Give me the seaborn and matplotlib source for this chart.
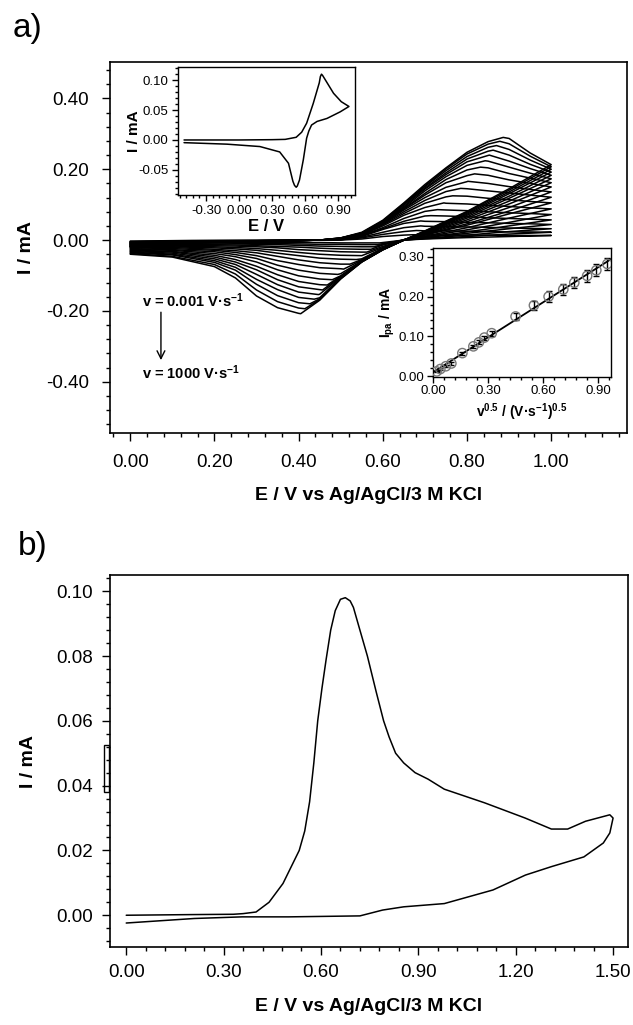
import numpy as np
import pandas as pd
import matplotlib
matplotlib.use('Agg')
import matplotlib.pyplot as plt
import seaborn as sns
from matplotlib.ticker import MultipleLocator, FormatStrFormatter
from matplotlib.patches import Rectangle

# ---------------- panel a: CV family (currents in uA, fastest scan first) ----------------
fwd_E = [0.0, 0.15, 0.3, 0.45, 0.5, 0.55, 0.6, 0.65, 0.7, 0.75, 0.8, 0.85, 0.9, 0.95, 1.0]
fwd_I = [
    [-20, -8, -5, 0, 6, 22, 56, 105, 157, 204, 248, 278, 287, 246, 213],
    [-19, -8, -5, 0, 6, 20, 54, 103, 153, 201, 243, 271, 272, 237, 207],
    [-18, -7, -5, 0, 6, 20, 53, 101, 151, 196, 236, 262, 256, 226, 200],
    [-17, -7, -4, 0, 5, 19, 53, 99, 147, 190, 229, 251, 240, 214, 192],
    [-16, -7, -4, 0, 5, 19, 53, 95, 144, 185, 221, 239, 223, 202, 183],
    [-15, -6, -4, 0, 5, 19, 52, 92, 139, 179, 211, 223, 206, 189, 173],
    [-14, -6, -4, 0, 4, 19, 49, 89, 132, 171, 198, 204, 188, 175, 162],
    [-13, -6, -4, 0, 4, 18, 49, 88, 127, 162, 182, 183, 170, 160, 150],
    [-12, -5, -3, 0, 3, 17, 46, 85, 120, 149, 165, 160, 151, 143, 136],
    [-11, -5, -3, 0, 3, 16, 45, 80, 112, 137, 145, 139, 133, 127, 121],
    [-10, -4, -3, 0, 3, 15, 43, 75, 104, 122, 124, 118, 114, 109, 105],
    [-9, -4, -2, 0, 2, 14, 40, 70, 92, 104, 102, 98, 95, 91, 88],
    [-8, -3, -2, 0, 2, 13, 35, 61, 81, 85, 83, 80, 77, 75, 72],
    [-7, -3, -2, 0, 2, 12, 32, 53, 68, 68, 66, 63, 61, 59, 57],
    [-6, -3, -2, 0, 1, 10, 30, 47, 53, 52, 50, 49, 47, 46, 44],
    [-5, -2, -1, 0, 1, 8, 22, 35, 39, 38, 37, 36, 34, 33, 32],
    [-4, -2, -1, 0, 1, 6, 16, 24, 26, 26, 25, 24, 23, 23, 22],
    [-3, -1, -1, 0, 0, 3, 10, 14, 15, 14, 14, 14, 13, 13, 13],
]
peak_E = [0.886, 0.878, 0.870, 0.862, 0.853, 0.843, 0.832, 0.818, 0.802, 0.785,
          0.766, 0.745, 0.730, 0.714, 0.690, 0.690, 0.680, 0.670]
peak_I = [290, 279, 267, 254, 240, 224, 206, 187, 166, 146, 125, 105, 86, 69, 54, 40, 27, 15]

rev_E = [1.0, 0.9, 0.8, 0.7, 0.65, 0.6, 0.55, 0.5, 0.45, 0.4, 0.35, 0.3, 0.25, 0.2, 0.1, 0.0]
rev_I = [
    [213, 145, 81, 26, 0, -28, -62, -110, -170, -207, -191, -158, -107, -75, -48, -40],
    [207, 141, 79, 25, 0, -27, -62, -109, -168, -192, -174, -141, -96, -69, -46, -38],
    [200, 136, 76, 24, 0, -27, -61, -107, -166, -177, -157, -125, -85, -63, -42, -36],
    [192, 131, 73, 23, 0, -27, -61, -106, -163, -162, -140, -111, -77, -58, -40, -34],
    [183, 124, 70, 22, 0, -27, -61, -105, -153, -147, -126, -97, -69, -53, -37, -32],
    [173, 118, 66, 21, 0, -26, -60, -103, -140, -132, -112, -84, -62, -48, -34, -30],
    [162, 110, 62, 19, 0, -26, -60, -102, -126, -117, -98, -74, -55, -43, -32, -28],
    [150, 102, 57, 18, 0, -26, -60, -101, -110, -101, -84, -62, -47, -38, -29, -26],
    [136, 92, 52, 16, 0, -25, -59, -95, -94, -85, -71, -52, -41, -33, -27, -24],
    [121, 82, 46, 15, 0, -25, -57, -81, -78, -69, -58, -44, -35, -29, -24, -22],
    [105, 74, 42, 14, 1, -25, -55, -68, -64, -56, -46, -36, -30, -26, -21, -20],
    [88, 62, 35, 11, 1, -23, -53, -54, -51, -44, -37, -29, -25, -22, -19, -18],
    [72, 50, 29, 9, 1, -21, -44, -43, -40, -35, -29, -24, -21, -19, -17, -16],
    [57, 40, 23, 7, 0, -18, -34, -33, -30, -27, -22, -19, -17, -16, -15, -14],
    [44, 32, 19, 7, 1, -14, -26, -25, -23, -20, -18, -16, -14, -13, -12, -12],
    [32, 24, 14, 5, 0, -12, -19, -18, -17, -15, -13, -12, -11, -11, -10, -10],
    [22, 17, 10, 4, 0, -10, -13, -12, -12, -11, -10, -9, -9, -8, -8, -8],
    [13, 10, 7, 3, 0, -7, -8, -8, -7, -7, -7, -6, -6, -6, -6, -6],
]
trough_E = [0.405, 0.415, 0.427, 0.437, 0.447, 0.457, 0.468, 0.480, 0.493, 0.507,
            0.522, 0.537, 0.550, 0.562, 0.572, 0.580, 0.587, 0.593]
trough_I = [-208, -194, -180, -167, -154, -141, -127, -112, -97, -82, -68, -55, -44, -34, -26, -19, -13, -8]

# inset: single CV (E / V, I / mA)
cv1_fwd_E = [-0.5, 0.0, 0.3, 0.42, 0.52, 0.57, 0.615, 0.675, 0.73, 0.74, 0.75, 0.76, 0.80, 0.86, 0.93, 1.0]
cv1_fwd_I = [0.0, 0.0, 0.0005, 0.001, 0.0045, 0.013, 0.028, 0.061, 0.0955, 0.106, 0.110, 0.108, 0.096, 0.078, 0.064, 0.056]
cv1_rev_E = [1.0, 0.92, 0.80, 0.71, 0.66, 0.635, 0.615, 0.585, 0.55, 0.53, 0.52, 0.505, 0.49, 0.45, 0.37, 0.19, -0.11, -0.5]
cv1_rev_I = [0.056, 0.047, 0.036, 0.031, 0.025, 0.015, 0.003, -0.033, -0.067, -0.077, -0.079, -0.076, -0.069, -0.039, -0.020, -0.011, -0.007, -0.0045]

# inset: peak current vs sqrt(scan rate)
ipa_x = [0.02, 0.04, 0.07, 0.10, 0.16, 0.22, 0.25, 0.28, 0.32, 0.45, 0.55, 0.63, 0.71, 0.77, 0.84, 0.89, 0.95]
ipa_y = [0.012, 0.018, 0.025, 0.032, 0.058, 0.075, 0.085, 0.097, 0.108, 0.150, 0.178, 0.200, 0.218, 0.235, 0.252, 0.266, 0.282]
ipa_err = [0.002, 0.002, 0.002, 0.003, 0.004, 0.004, 0.005, 0.005, 0.006, 0.010, 0.012, 0.013, 0.014, 0.014, 0.015, 0.015, 0.016]

# ---------------- panel b: single CV ----------------
b_fwd_E = [0.0, 0.1, 0.2, 0.33, 0.36, 0.40, 0.44, 0.483, 0.533, 0.55, 0.565, 0.578, 0.59, 0.603, 0.616,
           0.63, 0.644, 0.66, 0.675, 0.69, 0.70, 0.72, 0.743, 0.77, 0.793, 0.81, 0.83, 0.855, 0.89,
           0.93, 0.98, 1.104, 1.229, 1.31, 1.36, 1.415, 1.46, 1.49, 1.50]
b_fwd_I = [0.0, 0.0001, 0.0002, 0.0003, 0.0005, 0.001, 0.004, 0.0098, 0.020, 0.026, 0.035, 0.047,
           0.060, 0.070, 0.079, 0.088, 0.094, 0.0975, 0.098, 0.097, 0.095, 0.088, 0.080, 0.069, 0.060,
           0.055, 0.050, 0.047, 0.044, 0.042, 0.0389, 0.0347, 0.030, 0.0266, 0.0266, 0.029, 0.0302,
           0.031, 0.030]
b_rev_E = [1.50, 1.49, 1.47, 1.41, 1.31, 1.23, 1.13, 0.98, 0.855, 0.79, 0.72, 0.5, 0.357, 0.21, 0.0]
b_rev_I = [0.030, 0.0254, 0.0223, 0.018, 0.015, 0.0124, 0.0078, 0.0036, 0.0026, 0.0016, -0.0002,
           -0.0005, -0.0005, -0.001, -0.0024]

# ---------------- style ----------------
sns.set_style('ticks')
plt.rcParams['font.family'] = ['Liberation Sans', 'DejaVu Sans']
plt.rcParams['mathtext.fontset'] = 'custom'
plt.rcParams['mathtext.rm'] = 'Liberation Sans'
plt.rcParams['mathtext.bf'] = 'Liberation Sans:bold'
plt.rcParams['mathtext.it'] = 'Liberation Sans:italic'
plt.rcParams['axes.unicode_minus'] = False
for key in ['text.color', 'axes.labelcolor', 'xtick.color', 'ytick.color', 'axes.edgecolor']:
    plt.rcParams[key] = 'black'

W, H = 633, 1025
fig = plt.figure(figsize=(W / 100, H / 100), dpi=100)


def px_axes(left, top, right, bottom):
    return fig.add_axes([left / W, 1 - bottom / H, (right - left) / W, (bottom - top) / H])


def style_axis(ax, lab, pad, maj=6, mnr=3, lw=1.2):
    for s in ax.spines.values():
        s.set_linewidth(lw)
        s.set_color('black')
    ax.tick_params(which='major', direction='out', length=maj, width=1, labelsize=lab, pad=pad,
                   top=False, right=False, colors='black')
    ax.tick_params(which='minor', direction='out', length=mnr, width=1, top=False, right=False,
                   colors='black')


# build long table of the CV family
rows = []
for k in range(len(fwd_I)):
    f = sorted(zip(fwd_E + [peak_E[k]], fwd_I[k] + [peak_I[k]]))
    rv = dict(zip(rev_E, rev_I[k]))
    rv.setdefault(trough_E[k], trough_I[k])
    r = sorted(rv.items(), reverse=True)
    for n, (e, i) in enumerate(f + r):
        rows.append((k, n, e, i / 1000.0))
cv_df = pd.DataFrame(rows, columns=['curve', 'step', 'E', 'I'])

# ---- panel a main ----
ax1 = px_axes(110, 62, 627, 433)
sns.lineplot(data=cv_df, x='E', y='I', units='curve', estimator=None, sort=False,
             color='black', lw=1.1, ax=ax1, legend=False)
ax1.set_xlim(-0.048, 1.18)
ax1.set_ylim(-0.545, 0.503)
ax1.xaxis.set_minor_locator(MultipleLocator(0.04))
ax1.yaxis.set_major_locator(MultipleLocator(0.2))
ax1.yaxis.set_minor_locator(MultipleLocator(0.04))
ax1.set_xticks([0, 0.2, 0.4, 0.6, 0.8, 1.0])
ax1.xaxis.set_major_formatter(FormatStrFormatter('%.2f'))
ax1.yaxis.set_major_formatter(FormatStrFormatter('%.2f'))
style_axis(ax1, 13.5, 9)
ax1.set_xlabel('E / V vs Ag/AgCl/3 M KCl', fontsize=14, fontweight='bold')
ax1.set_ylabel('I / mA', fontsize=14, fontweight='bold')
ax1.xaxis.set_label_coords(0.5, -0.146)
ax1.yaxis.set_label_coords(-0.145, 0.5)

ax1.text(0.029, -0.172, 'v = 0.001 V·s$^{\\mathbf{-1}}$', fontsize=10.5, fontweight='bold',
         ha='left', va='center')
ax1.text(0.029, -0.375, 'v = 1000 V·s$^{\\mathbf{-1}}$', fontsize=10.5, fontweight='bold',
         ha='left', va='center')
ax1.annotate('', xy=(0.073, -0.347), xytext=(0.073, -0.196),
             arrowprops=dict(arrowstyle='->', lw=1, color='black', mutation_scale=14))

# ---- inset: single CV ----
ax2 = px_axes(178, 67, 355, 195)
sns.lineplot(x=cv1_fwd_E + cv1_rev_E, y=cv1_fwd_I + cv1_rev_I, sort=False, estimator=None,
             color='black', lw=1.1, ax=ax2)
ax2.set_xlim(-0.555, 1.055)
ax2.set_ylim(-0.092, 0.122)
ax2.set_xticks([-0.3, 0.0, 0.3, 0.6, 0.9])
ax2.xaxis.set_minor_locator(MultipleLocator(0.06))
ax2.set_yticks([-0.05, 0.0, 0.05, 0.10])
ax2.yaxis.set_minor_locator(MultipleLocator(0.01))
ax2.xaxis.set_major_formatter(FormatStrFormatter('%.2f'))
ax2.yaxis.set_major_formatter(FormatStrFormatter('%.2f'))
style_axis(ax2, 9.5, 3, maj=4, mnr=2, lw=1.0)
ax2.set_xlabel('E / V', fontsize=12, fontweight='bold')
ax2.set_ylabel('I / mA', fontsize=11, fontweight='bold')
ax2.xaxis.set_label_coords(0.5, -0.19)
ax2.yaxis.set_label_coords(-0.21, 0.5)

# ---- inset: Ipa vs v^0.5 ----
ax3 = px_axes(433, 248, 611, 377)
ax3.set_xlim(0, 0.97)
ax3.set_ylim(-0.002, 0.322)
ax3.errorbar(ipa_x, ipa_y, yerr=ipa_err, fmt='none', ecolor='black', elinewidth=1,
             capsize=2, capthick=1)
sns.scatterplot(x=ipa_x, y=ipa_y, ax=ax3, marker='o', s=45, facecolor='none',
                edgecolor='#777777', linewidth=1, zorder=3)
sns.regplot(x=ipa_x, y=ipa_y, ax=ax3, scatter=False, ci=None, truncate=False,
            line_kws=dict(color='black', lw=1.3))
ax3.set_xlim(0, 0.97)
ax3.set_ylim(-0.002, 0.322)
ax3.set_xticks([0.0, 0.3, 0.6, 0.9])
ax3.xaxis.set_minor_locator(MultipleLocator(0.06))
ax3.set_yticks([0.0, 0.1, 0.2, 0.3])
ax3.yaxis.set_minor_locator(MultipleLocator(0.02))
ax3.xaxis.set_major_formatter(FormatStrFormatter('%.2f'))
ax3.yaxis.set_major_formatter(FormatStrFormatter('%.2f'))
style_axis(ax3, 9.5, 2, maj=4, mnr=2, lw=1.0)
ax3.set_xlabel('v$^{\\mathbf{0.5}}$ / (V·s$^{\\mathbf{-1}}$)$^{\\mathbf{0.5}}$', fontsize=10, fontweight='bold')
ax3.set_ylabel('I$_{\\mathbf{pa}}$ / mA', fontsize=10, fontweight='bold')
ax3.xaxis.set_label_coords(0.5, -0.19)
ax3.yaxis.set_label_coords(-0.2, 0.5)

# ---- panel b ----
ax4 = px_axes(110, 575, 628, 947)
sns.lineplot(x=b_fwd_E + b_rev_E, y=b_fwd_I + b_rev_I, sort=False, estimator=None,
             color='black', lw=1.1, ax=ax4)
ax4.set_xlim(-0.05, 1.546)
ax4.set_ylim(-0.0098, 0.105)
ax4.xaxis.set_minor_locator(MultipleLocator(0.06))
ax4.yaxis.set_minor_locator(MultipleLocator(0.004))
ax4.set_xticks([0, 0.3, 0.6, 0.9, 1.2, 1.5])
ax4.set_yticks([0, 0.02, 0.04, 0.06, 0.08, 0.10])
ax4.xaxis.set_major_formatter(FormatStrFormatter('%.2f'))
ax4.yaxis.set_major_formatter(FormatStrFormatter('%.2f'))
style_axis(ax4, 13.5, 6)
ax4.set_xlabel('E / V vs Ag/AgCl/3 M KCl', fontsize=14, fontweight='bold')
ax4.set_ylabel('I / mA', fontsize=14, fontweight='bold')
ax4.xaxis.set_label_coords(0.5, -0.137)
ax4.yaxis.set_label_coords(-0.141, 0.5)

fig.add_artist(Rectangle((104 / W, 1 - 792 / H), 5 / W, 47 / H, transform=fig.transFigure,
                         fill=False, lw=1, edgecolor='black'))

fig.text(13 / W, 1 - 28 / H, 'a)', fontsize=24, ha='left', va='center')
fig.text(18 / W, 1 - 547 / H, 'b)', fontsize=24, ha='left', va='center')

fig.savefig('out.png', dpi=100)
